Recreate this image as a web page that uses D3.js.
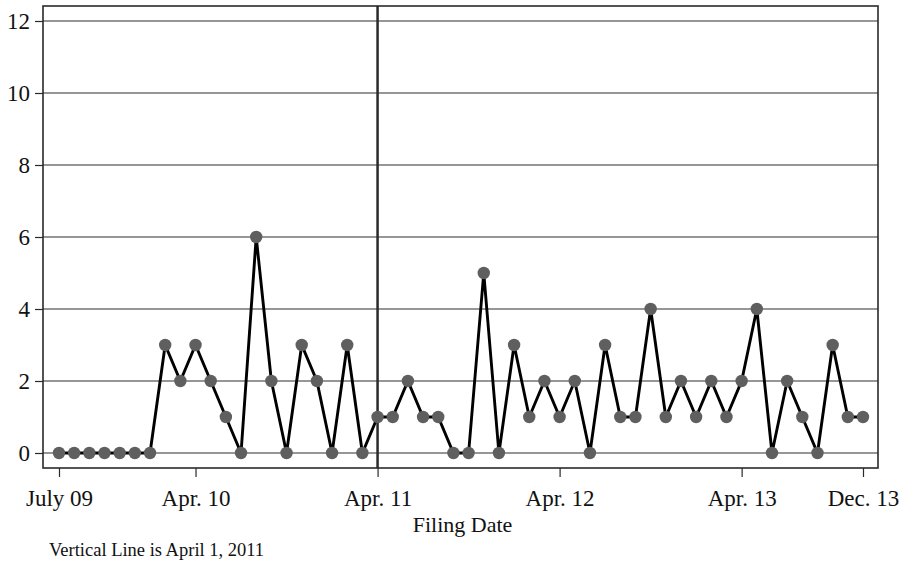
<!DOCTYPE html>
<html>
<head>
<meta charset="utf-8">
<script src="https://cdn.jsdelivr.net/npm/d3@7"></script>
<style>
  body { margin: 0; background: #fff; }
  text { font-family: "Liberation Serif", "Times New Roman", serif; }
</style>
</head>
<body>
<div id="chart"></div>
<script>
// monthly filings, July 2009 .. Dec 2013
var startMonth = "2009-07", endMonth = "2013-12";
var filings = [0, 0, 0, 0, 0, 0, 0, 3, 2, 3, 2, 1, 0, 6, 2, 0, 3, 2, 0, 3, 0,
  1, 1, 2, 1, 1, 0, 0, 5, 0, 3, 1, 2, 1, 2, 0, 3, 1, 1, 4, 1, 2, 1, 2, 1, 2,
  4, 0, 2, 1, 0, 3, 1, 1];
var xTickMonths = ["2009-07", "2010-04", "2011-04", "2012-04", "2013-04", "2013-12"];
var xTickLabels = ["July 09", "Apr. 10", "Apr. 11", "Apr. 12", "Apr. 13", "Dec. 13"];
var yTicks = [0, 2, 4, 6, 8, 10, 12];
var markerMonth = "2011-04";

var W = 900, H = 563;
var margin = { top: 6, left: 43, right: 22, bottom: 95 },
  width = W - margin.left - margin.right,
  height = H - margin.top - margin.bottom;

var fmt = d3.timeFormat("%Y-%m"), parse = d3.timeParse("%Y-%m");
var months = d3.timeMonth.range(parse(startMonth), d3.timeMonth.offset(parse(endMonth), 1)).map(fmt);
var data = months.map(function(m, i) { return { month: m, value: filings[i] }; });

var svg = d3.select("#chart").append("svg")
  .attr("width", W).attr("height", H)
  .append("g")
  .attr("transform", "translate(" + margin.left + "," + margin.top + ")");

var x = d3.scalePoint().domain(months).range([16, width - 15]);
var y = d3.scaleLinear().domain([0, 12]).range([447, 15]);

// grid
svg.selectAll(".grid")
  .data(yTicks)
  .enter().append("line")
  .attr("class", "grid")
  .attr("x1", 0).attr("x2", width)
  .attr("y1", function(d) { return y(d); })
  .attr("y2", function(d) { return y(d); })
  .attr("stroke", "#2e2e2e")
  .attr("stroke-width", 1.1);

// frame
svg.append("rect")
  .attr("width", width).attr("height", height)
  .attr("fill", "none")
  .attr("stroke", "#2a2a2a")
  .attr("stroke-width", 1.6);

// vertical marker line
svg.append("line")
  .attr("x1", x(markerMonth)).attr("x2", x(markerMonth))
  .attr("y1", 0).attr("y2", height)
  .attr("stroke", "#2a2a2a")
  .attr("stroke-width", 2.5);

var xAxis = d3.axisBottom(x)
  .tickValues(xTickMonths)
  .tickSize(9)
  .tickPadding(13)
  .tickFormat(function(d) { return xTickLabels[xTickMonths.indexOf(d)]; });

svg.append("g")
  .attr("class", "axis x-axis")
  .attr("transform", "translate(0," + height + ")")
  .call(xAxis)
  .call(function(g) { g.select(".domain").remove(); });

var yAxis = d3.axisLeft(y)
  .tickValues(yTicks)
  .tickSize(8)
  .tickPadding(5);

svg.append("g")
  .attr("class", "axis y-axis")
  .call(yAxis)
  .call(function(g) { g.select(".domain").remove(); });

d3.selectAll(".axis")
  .attr("font-family", "'Liberation Serif', 'Times New Roman', serif");
d3.selectAll(".axis line").attr("stroke", "#2a2a2a").attr("stroke-width", 1.2);
d3.selectAll(".axis text")
  .attr("fill", "#111")
  .attr("font-size", 23);

var line = d3.line()
  .x(function(d) { return x(d.month); })
  .y(function(d) { return y(d.value); });

svg.append("path")
  .datum(data)
  .attr("d", line)
  .attr("fill", "none")
  .attr("stroke", "#000")
  .attr("stroke-width", 2.9)
  .attr("stroke-linejoin", "miter");

svg.selectAll(".dot")
  .data(data)
  .enter().append("circle")
  .attr("class", "dot")
  .attr("cx", function(d) { return x(d.month); })
  .attr("cy", function(d) { return y(d.value); })
  .attr("r", 6.2)
  .attr("fill", "#5f5f5f");

svg.append("text")
  .attr("x", width / 2 + 2)
  .attr("y", 526)
  .attr("text-anchor", "middle")
  .attr("font-size", 22)
  .attr("fill", "#111")
  .text("Filing Date");

svg.append("text")
  .attr("x", 6)
  .attr("y", 550)
  .attr("font-size", 18.5)
  .attr("fill", "#111")
  .text("Vertical Line is April 1, 2011");
</script>
</body>
</html>
